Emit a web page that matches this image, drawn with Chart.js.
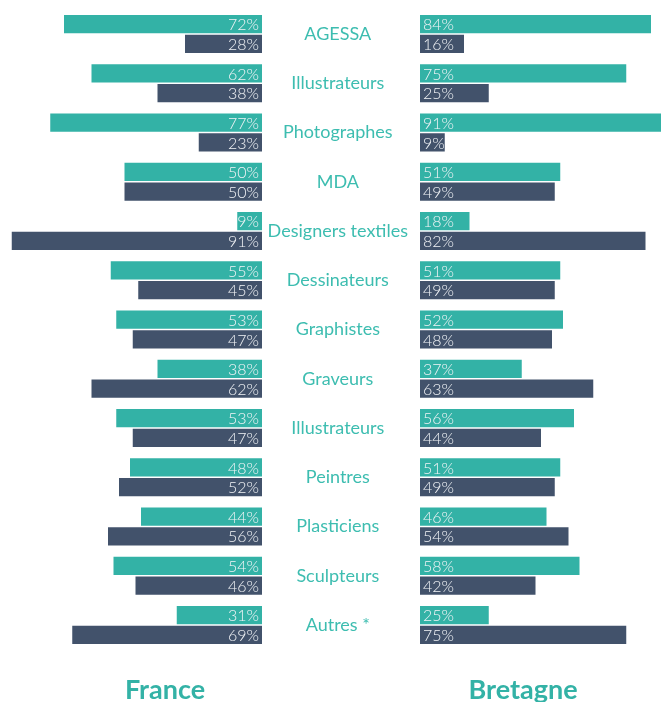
<!DOCTYPE html>
<html>
<head>
<meta charset="utf-8">
<script src="https://cdn.jsdelivr.net/npm/chart.js@4"></script>
<style>
	body { margin: 0; background: #fff; }
	#wrap { position: relative; width: 661px; height: 702px; overflow: hidden; }
	canvas { position: absolute; top: 0; }
	#france-chart { left: 0; }
	#bretagne-chart { left: 262px; }
	.region { position: absolute; top: 672px; font-family: Lato, sans-serif; font-weight: bold; font-size: 27px; color: #33b2a6; transform: translateX(-50%); }
</style>
</head>
<body>
<div id="wrap">
	<canvas id="france-chart" width="262" height="702"></canvas>
	<canvas id="bretagne-chart" width="399" height="702"></canvas>
	<div class="region" style="left:165px">France</div>
	<div class="region" style="left:523px">Bretagne</div>
</div>
<script>
var categories = ["AGESSA", "Illustrateurs", "Photographes", "MDA", "Designers textiles", "Dessinateurs",
	"Graphistes", "Graveurs", "Illustrateurs", "Peintres", "Plasticiens", "Sculpteurs", "Autres *"];
var franceTeal = [72, 62, 77, 50, 9, 55, 53, 38, 53, 48, 44, 54, 31];
var franceDark = [28, 38, 23, 50, 91, 45, 47, 62, 47, 52, 56, 46, 69];
var bretagneTeal = [84, 75, 91, 51, 18, 51, 52, 37, 56, 51, 46, 58, 25];
var bretagneDark = [16, 25, 9, 49, 82, 49, 48, 63, 44, 49, 54, 42, 75];

var teal = '#33b2a6';
var dark = '#42526b';

// writes the value inside each bar, next to the zero line
var valueLabels = {
	id: 'valueLabels',
	afterDatasetsDraw: function(chart) {
		var ctx = chart.ctx;
		var reversed = chart.options.scales.x.reverse;
		ctx.save();
		ctx.font = '300 16px Lato, sans-serif';
		ctx.fillStyle = '#f2f4f7';
		ctx.textBaseline = 'middle';
		ctx.textAlign = reversed ? 'right' : 'left';
		chart.data.datasets.forEach(function(ds, i) {
			chart.getDatasetMeta(i).data.forEach(function(bar, j) {
				var x = reversed ? bar.base - 3 : bar.base + 3;
				ctx.fillText(ds.data[j] + '%', x, bar.y + 1);
			});
		});
		ctx.restore();
	}
};

function datasets(a, b) {
	return [
		{ data: a, backgroundColor: teal, categoryPercentage: 0.8, barPercentage: 0.92 },
		{ data: b, backgroundColor: dark, categoryPercentage: 0.8, barPercentage: 0.92 }
	];
}

var layoutPad = { top: 9.4, bottom: 52.4, left: 0, right: 0 };

var franceChart = new Chart(document.getElementById("france-chart"), {
	type: 'bar',
	data: { labels: categories, datasets: datasets(franceTeal, franceDark) },
	options: {
		indexAxis: 'y',
		responsive: false,
		animation: false,
		layout: { padding: layoutPad },
		plugins: { legend: { display: false }, tooltip: { enabled: false } },
		scales: {
			x: { display: false, reverse: true, min: 0, max: 262 / 2.75 },
			y: { display: false }
		}
	},
	plugins: [valueLabels]
});

var bretagneChart = new Chart(document.getElementById("bretagne-chart"), {
	type: 'bar',
	data: { labels: categories, datasets: datasets(bretagneTeal, bretagneDark) },
	options: {
		indexAxis: 'y',
		responsive: false,
		animation: false,
		layout: { padding: layoutPad },
		plugins: { legend: { display: false }, tooltip: { enabled: false } },
		scales: {
			x: { display: false, min: 0, max: 241 / 2.75 },
			y: {
				afterFit: function(scale) {
					scale.width = 158;
					scale.paddingTop = 0;
					scale.paddingBottom = 0;
				},
				grid: { display: false, drawTicks: false },
				border: { display: false },
				ticks: {
					crossAlign: 'center',
					padding: 12,
					color: '#3dbdb0',
					font: { family: 'Lato', size: 18, weight: 400 }
				}
			}
		}
	},
	plugins: [valueLabels]
});
</script>
</body>
</html>
